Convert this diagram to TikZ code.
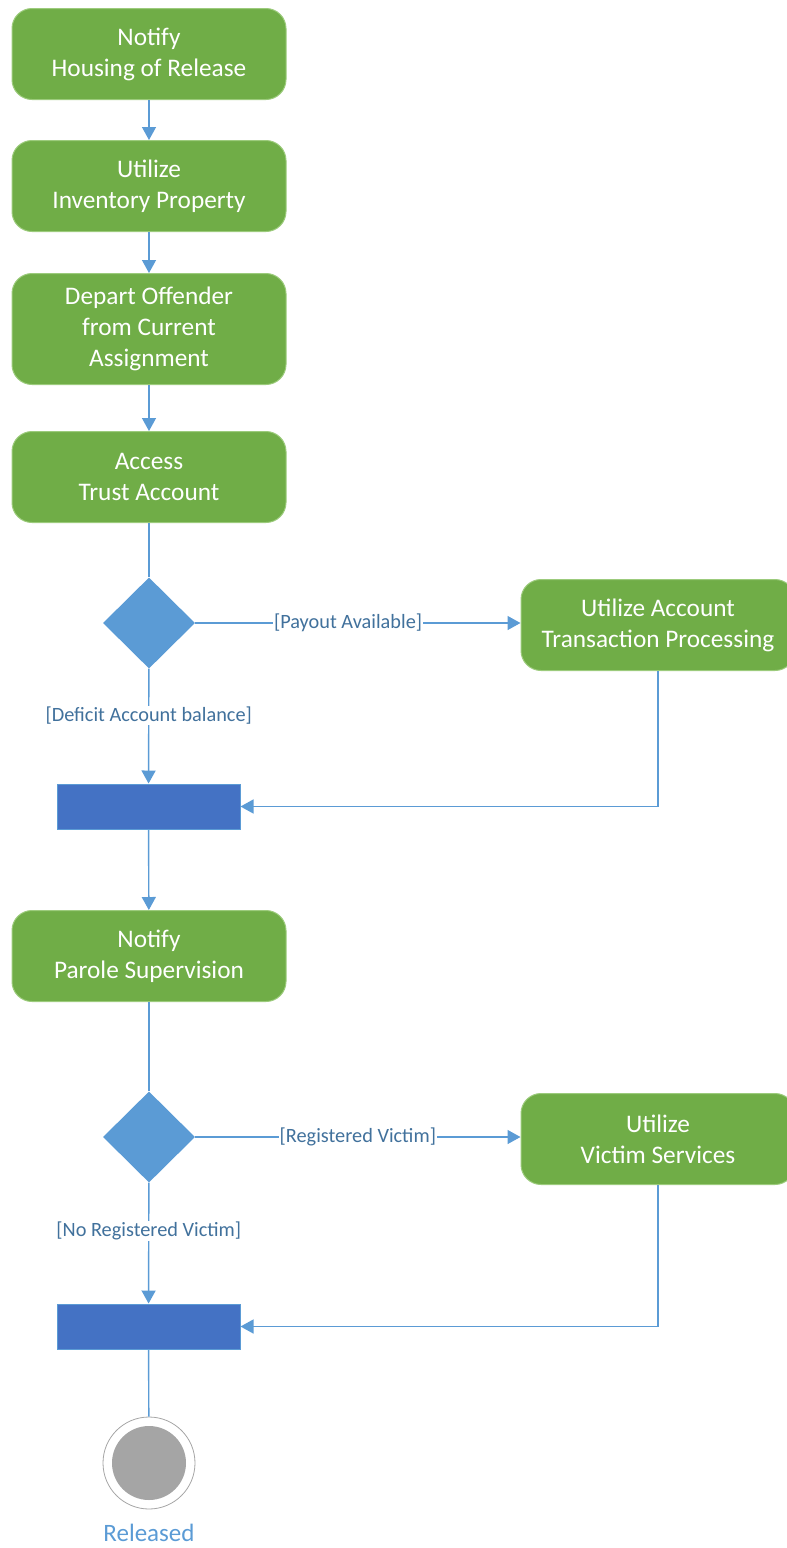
\documentclass[tikz,border=0pt]{standalone}
\usepackage{fontspec}
\setmainfont{Carlito}
\usetikzlibrary{arrows.meta,shapes.geometric,positioning}
\definecolor{actfill}{HTML}{70AD47}
\definecolor{actdraw}{HTML}{9CCB7C}
\definecolor{flow}{HTML}{5B9BD5}
\definecolor{barfill}{HTML}{4472C4}
\definecolor{lbl}{HTML}{41719C}
\definecolor{endgray}{HTML}{A5A5A5}
\begin{document}
\begin{tikzpicture}[x=1pt,y=-1pt,
  act/.style={rectangle,rounded corners=20pt,fill=actfill,draw=actdraw,line width=1pt,
    minimum width=274pt,minimum height=91pt,text=white,align=center,inner sep=0pt,
    font=\fontsize{25.3}{31}\selectfont},
  decis/.style={diamond,fill=flow,draw=none,minimum width=92pt,minimum height=91pt,inner sep=0pt},
  joinbar/.style={rectangle,fill=barfill,draw=flow,line width=1pt,minimum width=183pt,minimum height=45pt,inner sep=0pt},
  flowline/.style={draw=flow,line width=1.4pt},
  arr/.style={flowline,-{Triangle[length=13pt,width=14pt]}},
  guard/.style={fill=white,text=lbl,inner sep=1pt,font=\fontsize{20.3}{24}\selectfont}
]
\begin{scope}
\clip (0,0) rectangle (787,1548);
\useasboundingbox (0,0) rectangle (787,1548);
\node[act] (n1) at (149,54) {Notify\\Housing of Release};
\node[act] (n2) at (149,186) {Utilize\\Inventory Property};
\node[act,minimum height=111pt] (n3) at (149,329) {Depart Offender\\from Current\\Assignment};
\node[act] (n4) at (149,477) {Access\\Trust Account};
\node[decis] (d1) at (149,623) {};
\node[act] (pay) at (658,625) {Utilize Account\\Transaction Processing};
\node[joinbar] (b1) at (148.5,806.5) {};
\node[act] (n5) at (149,956) {Notify\\Parole Supervision};
\node[decis] (d2) at (149,1137) {};
\node[act] (vic) at (658,1139) {Utilize\\Victim Services};
\node[joinbar] (b2) at (148.5,1326.5) {};
\node[circle,draw=endgray,line width=0.8pt,minimum size=92pt,inner sep=0pt] (fin) at (149,1463) {};
\node[circle,fill=endgray,minimum size=74pt,inner sep=0pt] (fininner) at (fin.center) {};
\node[text=flow,font=\fontsize{25}{30}\selectfont] (rel) at (149,1533) {Released};

\draw[arr] (n1) -- (n2);
\draw[arr] (n2) -- (n3);
\draw[arr] (n3) -- (n4);
\draw[flowline] (n4) -- (d1);
\draw[arr] (d1) -- node[guard,pos=0.47] {[Payout Available]} (pay.west|-d1);
\draw[arr] (d1) -- node[guard,pos=0.41] {[Deficit Account balance]} (b1);
\draw[arr] (pay.south) |- (b1.east);
\draw[arr] (b1) -- (n5);
\draw[flowline] (n5) -- (d2);
\draw[arr] (d2) -- node[guard] {[Registered Victim]} (vic.west|-d2);
\draw[arr] (d2) -- node[guard,pos=0.40] {[No Registered Victim]} (b2);
\draw[arr] (vic.south) |- (b2.east);
\draw[flowline] (b2) -- (fin);
\end{scope}
\end{tikzpicture}
\end{document}
